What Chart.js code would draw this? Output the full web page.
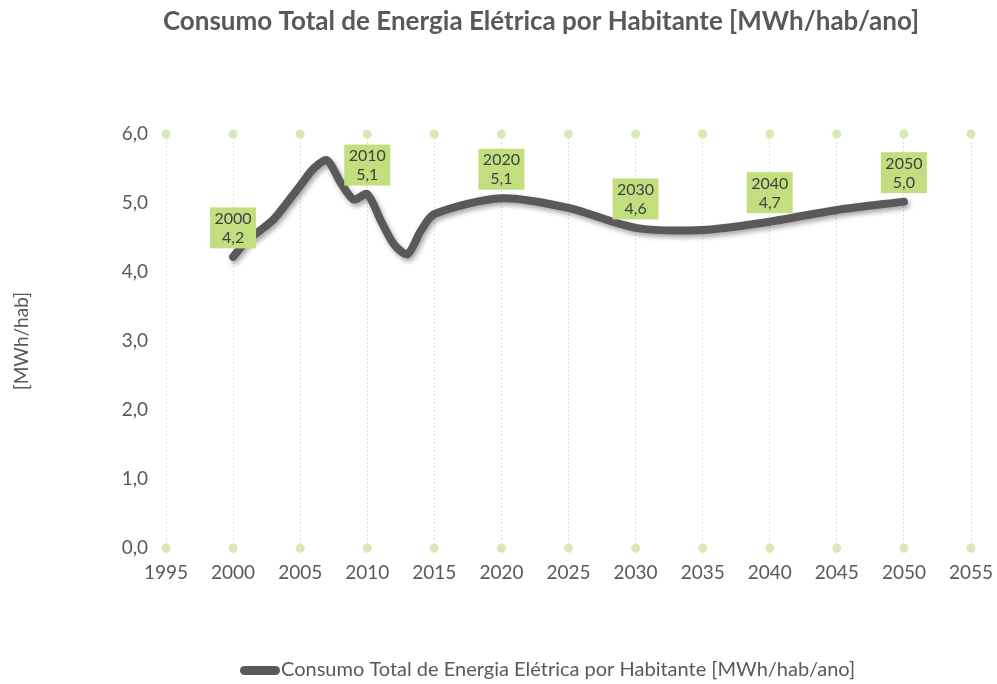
<!DOCTYPE html>
<html>
<head>
<meta charset="utf-8">
<script src="https://cdn.jsdelivr.net/npm/chart.js@4.4.1/dist/chart.umd.min.js"></script>
<style>
  html, body { margin: 0; padding: 0; background: #fff; }
  #wrap { width: 997px; height: 684px; }
</style>
</head>
<body>
<div id="wrap"><canvas id="chart"></canvas></div>
<script>
const years = [2000, 2001, 2002, 2003, 2004, 2005, 2006, 2007, 2008, 2009, 2010, 2011, 2012, 2013, 2014, 2015, 2020, 2025, 2030, 2035, 2040, 2045, 2050];
const consumo = [4.22, 4.45, 4.6, 4.76, 5.0, 5.25, 5.5, 5.62, 5.3, 5.05, 5.13, 4.75, 4.4, 4.26, 4.6, 4.84, 5.07, 4.93, 4.64, 4.61, 4.73, 4.9, 5.02];
const labelYears = [2000, 2010, 2020, 2030, 2040, 2050];
const xTicks = [1995, 2000, 2005, 2010, 2015, 2020, 2025, 2030, 2035, 2040, 2045, 2050, 2055];
const yTicks = [0, 1, 2, 3, 4, 5, 6];

const seriesName = 'Consumo Total de Energia Elétrica por Habitante [MWh/hab/ano]';
const grey = '#595959';
const font = 'Lato';

// dots at the ends of each vertical gridline
const gridDots = {
    id: 'gridDots',
    beforeDatasetsDraw(chart) {
        const {ctx, chartArea, scales: {x}} = chart;
        ctx.save();
        ctx.fillStyle = '#d6e9b6';
        x.ticks.forEach(t => {
            const px = x.getPixelForValue(t.value);
            [chartArea.top, chartArea.bottom].forEach(py => {
                ctx.beginPath();
                ctx.arc(px, py, 4.5, 0, Math.PI * 2);
                ctx.fill();
            });
        });
        ctx.restore();
    }
};

const lineShadow = {
    id: 'lineShadow',
    beforeDatasetDraw(chart) {
        const ctx = chart.ctx;
        ctx.save();
        ctx.shadowColor = 'rgba(0,0,0,0.35)';
        ctx.shadowBlur = 5;
        ctx.shadowOffsetX = 2;
        ctx.shadowOffsetY = 3;
    },
    afterDatasetDraw(chart) {
        chart.ctx.restore();
    }
};

const pointLabels = {
    id: 'pointLabels',
    afterDatasetsDraw(chart) {
        const {ctx, scales: {x, y}} = chart;
        ctx.save();
        ctx.font = '16px ' + font;
        ctx.textAlign = 'center';
        ctx.textBaseline = 'middle';
        years.forEach((yr, i) => {
            if (!labelYears.includes(yr)) return;
            const px = x.getPixelForValue(yr);
            const py = y.getPixelForValue(consumo[i]) - 29;
            const w = 46, h = 41;
            ctx.fillStyle = '#c2df80';
            ctx.fillRect(px - w / 2, py - h / 2, w, h);
            ctx.fillStyle = '#404040';
            ctx.fillText(String(yr), px, py - 9);
            ctx.fillText(consumo[i].toFixed(1).replace('.', ','), px, py + 10);
        });
        ctx.restore();
    }
};

// title and legend sit off-centre in the original, so they are drawn by hand
const titleLegend = {
    id: 'titleLegend',
    afterDraw(chart) {
        const ctx = chart.ctx;
        ctx.save();
        ctx.fillStyle = grey;
        ctx.textBaseline = 'middle';
        ctx.textAlign = 'center';
        ctx.font = 'bold 26px ' + font;
        ctx.fillText(seriesName, 541, 22);

        ctx.beginPath();
        ctx.roundRect(240, 666, 40, 9, 4.5);
        ctx.fill();
        ctx.textAlign = 'left';
        ctx.font = '20px ' + font;
        ctx.fillText(seriesName, 281, 670);
        ctx.restore();
    }
};

new Chart(document.getElementById('chart'), {
    type: 'line',
    data: {
        datasets: [{
            label: seriesName,
            data: years.map((yr, i) => ({x: yr, y: consumo[i]})),
            borderColor: grey,
            backgroundColor: grey,
            borderWidth: 8,
            borderCapStyle: 'round',
            borderJoinStyle: 'round',
            pointRadius: 0,
            tension: 0.28,
            fill: false
        }]
    },
    options: {
        responsive: true,
        maintainAspectRatio: false,
        animation: false,
        layout: { padding: { left: 10, right: 2, top: 134, bottom: 29 } },
        scales: {
            x: {
                type: 'linear',
                min: 1995,
                max: 2055,
                afterBuildTicks: (axis) => { axis.ticks = xTicks.map(v => ({value: v})); },
                grid: { color: '#d6e9b6', lineWidth: 1, drawTicks: false },
                border: { display: false, dash: [2, 2] },
                ticks: {
                    color: grey,
                    font: { family: font, size: 19 },
                    padding: 13,
                    maxRotation: 0,
                    callback: v => String(v)
                },
                afterFit: (scale) => {
                    scale.height += 58;
                    scale.paddingRight = 26;
                }
            },
            y: {
                min: 0,
                max: 6,
                afterBuildTicks: (axis) => { axis.ticks = yTicks.map(v => ({value: v})); },
                grid: { display: false },
                border: { display: false },
                ticks: {
                    color: grey,
                    font: { family: font, size: 19 },
                    padding: 10,
                    callback: v => v.toFixed(1).replace('.', ',')
                },
                title: {
                    display: true,
                    text: '[MWh/hab]',
                    color: grey,
                    font: { family: font, size: 19 },
                    padding: { top: 0, bottom: 0 }
                },
                afterFit: (scale) => { scale.width = 156; }
            }
        },
        plugins: {
            title: { display: false },
            legend: { display: false },
            tooltip: { enabled: false }
        }
    },
    plugins: [gridDots, lineShadow, pointLabels, titleLegend]
});
</script>
</body>
</html>
